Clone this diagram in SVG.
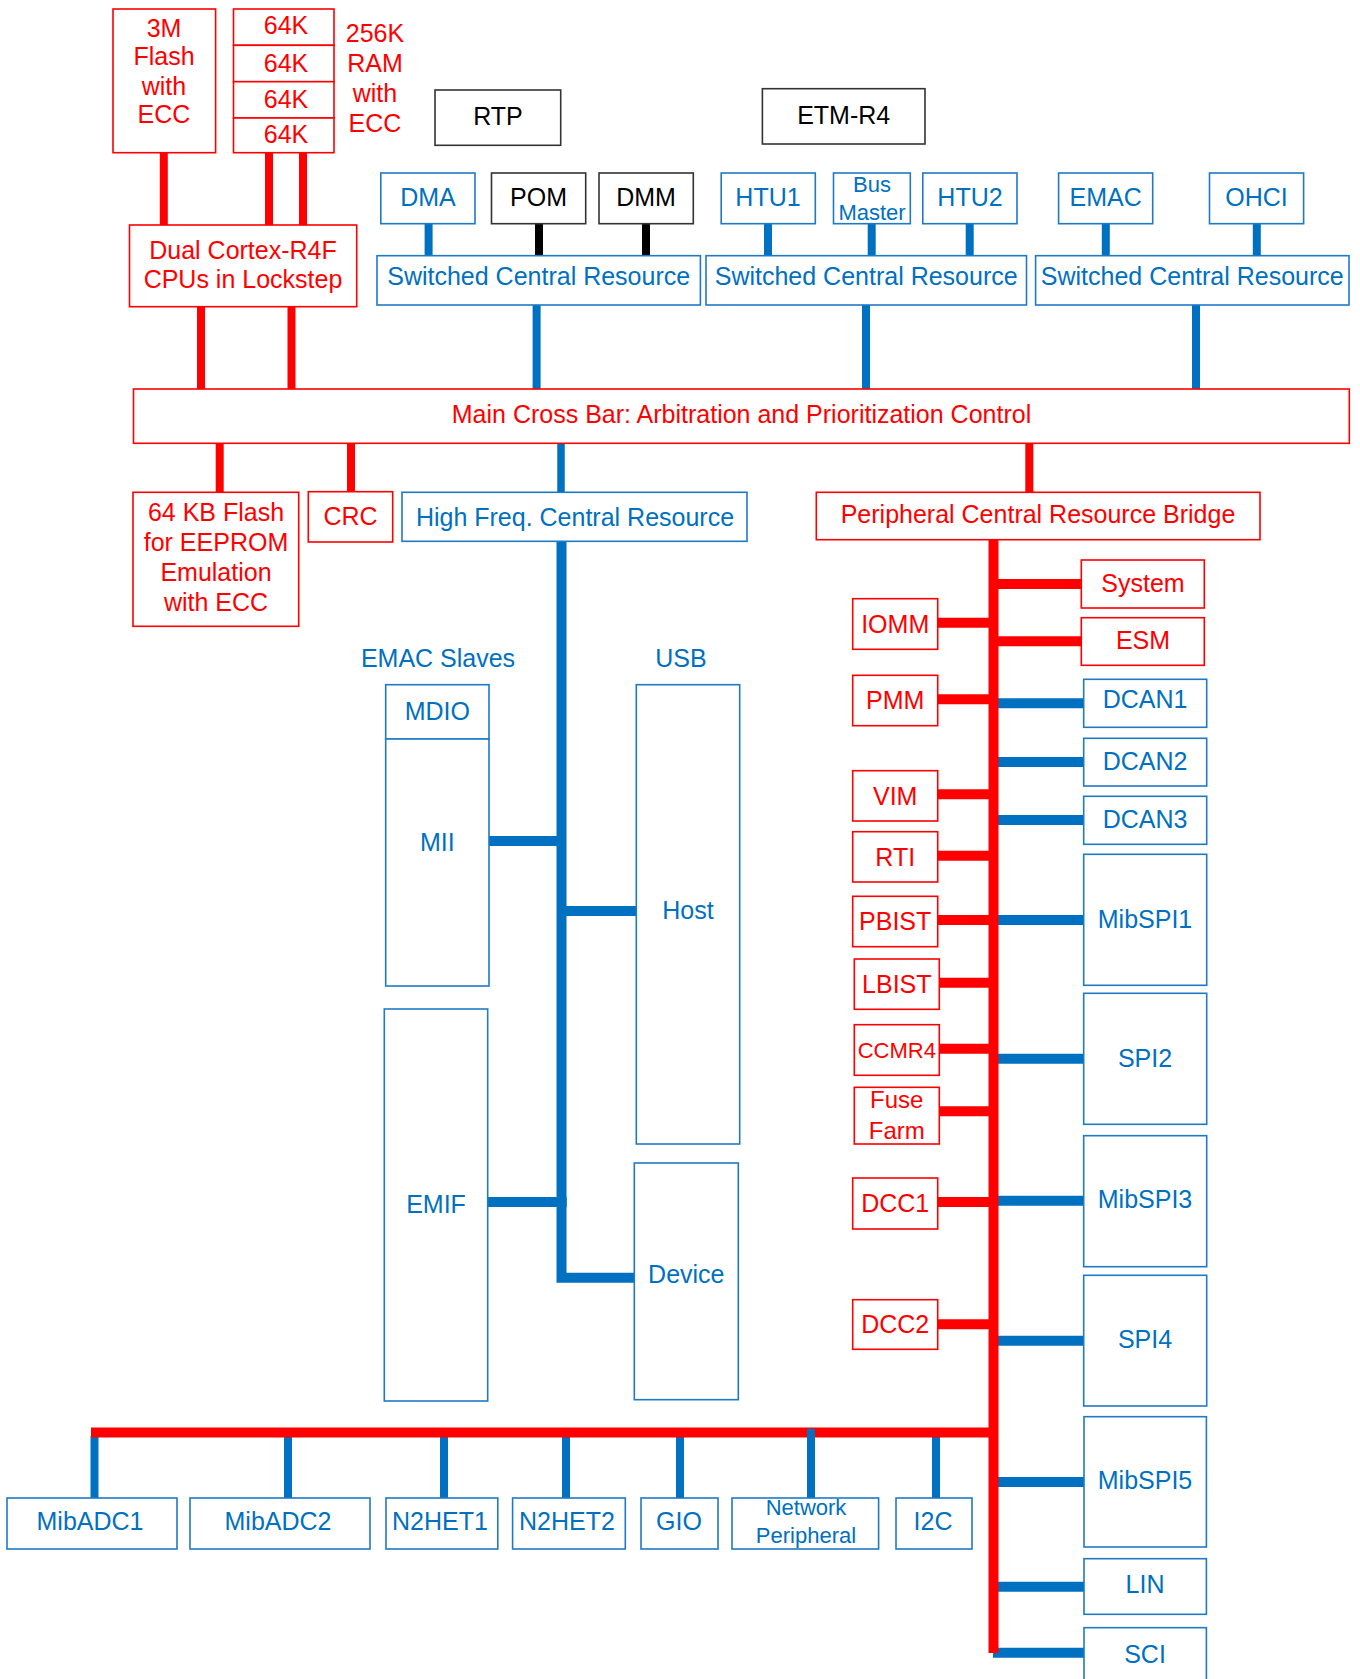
<svg xmlns="http://www.w3.org/2000/svg" width="1360" height="1679" viewBox="0 0 1360 1679">
<style>
rect{fill:#fff;stroke-width:1.6}
.r{stroke:#FF0000}
.b{stroke:#1F7AC6}
.k{stroke:#333}
text{font-family:"Liberation Sans",Arial,sans-serif;font-size:25px;text-anchor:middle}
.tr{fill:#FF0000}
.tb{fill:#0070C0}
.tk{fill:#000}
.s22{font-size:22px}
.s24{font-size:24px}
.cr{stroke:#FF0000;fill:none}
.cb{stroke:#0070C0;fill:none}
.ck{stroke:#000;fill:none}
.w8{stroke-width:8}
.w10{stroke-width:10}
</style>
<rect x="0" y="0" width="1360" height="1679" style="fill:#fff;stroke:none"/>
<g id="connectors">
  <g class="cr w8">
    <line x1="163.8" y1="152" x2="163.8" y2="225"/>
    <line x1="269" y1="152" x2="269" y2="225"/>
    <line x1="303" y1="152" x2="303" y2="225"/>
    <line x1="201" y1="306" x2="201" y2="389"/>
    <line x1="291.5" y1="306" x2="291.5" y2="389"/>
    <line x1="219.7" y1="443" x2="219.7" y2="492"/>
    <line x1="351" y1="443" x2="351" y2="492"/>
    <line x1="1029.3" y1="443" x2="1029.3" y2="492"/>
  </g>
  <g class="ck w8">
    <line x1="539" y1="223.7" x2="539" y2="255.7"/>
    <line x1="646" y1="223.7" x2="646" y2="255.7"/>
  </g>
  <g class="cb w8">
    <line x1="428.6" y1="223.7" x2="428.6" y2="255.7"/>
    <line x1="768" y1="223.7" x2="768" y2="255.7"/>
    <line x1="871.7" y1="223.7" x2="871.7" y2="255.7"/>
    <line x1="969.7" y1="223.7" x2="969.7" y2="255.7"/>
    <line x1="1105.8" y1="223.7" x2="1105.8" y2="255.7"/>
    <line x1="1256.8" y1="223.7" x2="1256.8" y2="255.7"/>
    <line x1="536.6" y1="305" x2="536.6" y2="389"/>
    <line x1="866" y1="305" x2="866" y2="389"/>
    <line x1="1196" y1="305" x2="1196" y2="389"/>
    <line x1="561" y1="443" x2="561" y2="492" style="stroke-width:7.5"/>
  </g>
  <g class="cb w10">
    <path d="M561.5 541.3 V1277.7 H634.3"/>
    <line x1="489" y1="841" x2="566" y2="841"/>
    <line x1="561" y1="911" x2="636.3" y2="911"/>
    <line x1="487.7" y1="1202" x2="566.7" y2="1202"/>
    <line x1="998" y1="703.3" x2="1083.7" y2="703.3"/>
    <line x1="998" y1="762" x2="1083.7" y2="762"/>
    <line x1="996" y1="820" x2="1083.7" y2="820"/>
    <line x1="998" y1="920" x2="1083.7" y2="920"/>
    <line x1="995" y1="1058.7" x2="1083.7" y2="1058.7"/>
    <line x1="998" y1="1200.7" x2="1083.7" y2="1200.7"/>
    <line x1="998" y1="1340.7" x2="1083.7" y2="1340.7"/>
    <line x1="998" y1="1482" x2="1084" y2="1482"/>
    <line x1="995" y1="1586.7" x2="1084" y2="1586.7"/>
    <line x1="993" y1="1652.7" x2="1084" y2="1652.7"/>
  </g>
  <g class="cb w8">
    <line x1="94.5" y1="1436" x2="94.5" y2="1498"/>
    <line x1="288" y1="1436" x2="288" y2="1498"/>
    <line x1="444" y1="1436" x2="444" y2="1498"/>
    <line x1="566" y1="1436" x2="566" y2="1498"/>
    <line x1="680" y1="1436" x2="680" y2="1498"/>
    <line x1="936" y1="1436" x2="936" y2="1498"/>
  </g>
  <g class="cr w10">
    <line x1="993.5" y1="539.7" x2="993.5" y2="1653"/>
    <line x1="91" y1="1432.5" x2="998" y2="1432.5"/>
    <line x1="993.5" y1="584" x2="1081.3" y2="584"/>
    <line x1="993.5" y1="641.3" x2="1081.3" y2="641.3"/>
    <line x1="937.7" y1="622.7" x2="993.5" y2="622.7"/>
    <line x1="937.7" y1="699.3" x2="993.5" y2="699.3"/>
    <line x1="937.7" y1="794.3" x2="993.5" y2="794.3"/>
    <line x1="937.7" y1="855.7" x2="993.5" y2="855.7"/>
    <line x1="937.7" y1="920" x2="993.5" y2="920"/>
    <line x1="939.3" y1="982.7" x2="993.5" y2="982.7"/>
    <line x1="939.3" y1="1048.7" x2="993.5" y2="1048.7"/>
    <line x1="939.3" y1="1111.3" x2="993.5" y2="1111.3"/>
    <line x1="937.7" y1="1202" x2="993.5" y2="1202"/>
    <line x1="937.7" y1="1324.3" x2="993.5" y2="1324.3"/>
  </g>
  <line class="cb w8" x1="811" y1="1429" x2="811" y2="1498"/>
</g>

<g id="flash3m"><rect class="r" x="113" y="9" width="102.6" height="143.7"/>
  <text class="tr" x="164" y="37">3M</text><text class="tr" x="164" y="65">Flash</text><text class="tr" x="164" y="95">with</text><text class="tr" x="164" y="123">ECC</text></g>
<g id="ram">
  <rect class="r" x="233.5" y="9" width="100.5" height="36.3"/>
  <rect class="r" x="233.5" y="45.3" width="100.5" height="36.4"/>
  <rect class="r" x="233.5" y="81.7" width="100.5" height="36.3"/>
  <rect class="r" x="233.5" y="118" width="100.5" height="34.7"/>
  <text class="tr" x="286" y="34">64K</text><text class="tr" x="286" y="71.7">64K</text><text class="tr" x="286" y="108">64K</text><text class="tr" x="286" y="142.7">64K</text>
</g>
<g id="ramlabel"><text class="tr" x="375" y="42">256K</text><text class="tr" x="375" y="72">RAM</text><text class="tr" x="375" y="102">with</text><text class="tr" x="375" y="132">ECC</text></g>
<g id="rtp"><rect class="k" x="435" y="90" width="125.7" height="55.3"/><text class="tk" x="498" y="125">RTP</text></g>
<g id="etm"><rect class="k" x="762.4" y="88.7" width="162.6" height="55.3"/><text class="tk" x="843.7" y="124">ETM-R4</text></g>
<g id="dma"><rect class="b" x="380.8" y="173" width="94.2" height="50.7"/><text class="tb" x="428" y="206">DMA</text></g>
<g id="pom"><rect class="k" x="491.5" y="173" width="94.2" height="50.7"/><text class="tk" x="538.6" y="206">POM</text></g>
<g id="dmm"><rect class="k" x="599" y="173" width="94.3" height="50.7"/><text class="tk" x="646" y="206">DMM</text></g>
<g id="htu1"><rect class="b" x="721.2" y="173" width="94.1" height="50.7"/><text class="tb" x="768" y="206">HTU1</text></g>
<g id="busmaster"><rect class="b" x="833.5" y="173" width="76.8" height="50.7"/><text class="tb s22" x="872" y="192.3">Bus</text><text class="tb s22" x="872" y="220">Master</text></g>
<g id="htu2"><rect class="b" x="922.8" y="173" width="94.2" height="50.7"/><text class="tb" x="970" y="206">HTU2</text></g>
<g id="emac"><rect class="b" x="1058.6" y="173" width="94.1" height="50.7"/><text class="tb" x="1105.6" y="206">EMAC</text></g>
<g id="ohci"><rect class="b" x="1209.5" y="173" width="94.1" height="50.7"/><text class="tb" x="1256.5" y="206">OHCI</text></g>
<g id="scr1"><rect class="b" x="377" y="255.7" width="323.4" height="49.3"/><text class="tb" x="538.7" y="285">Switched Central Resource</text></g>
<g id="scr2"><rect class="b" x="706" y="255.7" width="320.5" height="49.3"/><text class="tb" x="866.2" y="285">Switched Central Resource</text></g>
<g id="scr3"><rect class="b" x="1035.6" y="255.7" width="313.4" height="49.3"/><text class="tb" x="1192.3" y="285">Switched Central Resource</text></g>
<g id="cpu"><rect class="r" x="129.5" y="225" width="227.2" height="81.7"/><text class="tr" x="243" y="259">Dual Cortex-R4F</text><text class="tr" x="243" y="288.3">CPUs in Lockstep</text></g>
<g id="mcb"><rect class="r" x="133.5" y="389" width="1215.8" height="54.3"/><text class="tr" x="741.5" y="423">Main Cross Bar: Arbitration and Prioritization Control</text></g>

<g id="flash64"><rect class="r" x="133" y="492.3" width="165.7" height="134"/>
  <text class="tr" x="216" y="521">64 KB Flash</text><text class="tr" x="216" y="551">for EEPROM</text><text class="tr" x="216" y="581">Emulation</text><text class="tr" x="216" y="611">with ECC</text></g>
<g id="crc"><rect class="r" x="308.3" y="491.7" width="84.4" height="50.3"/><text class="tr" x="350.5" y="525">CRC</text></g>
<g id="hfcr"><rect class="b" x="402" y="492.3" width="345" height="49"/><text class="tb" x="575" y="525.7">High Freq. Central Resource</text></g>
<g id="bridge"><rect class="r" x="816.3" y="492.3" width="443.7" height="47.4"/><text class="tr" x="1038" y="522.7">Peripheral Central Resource Bridge</text></g>

<g id="emacslaves"><text class="tb" x="438" y="667">EMAC Slaves</text>
  <g id="mdio"><rect class="b" x="385.7" y="684.7" width="103.3" height="54.3"/><text class="tb" x="437.3" y="720">MDIO</text></g>
  <g id="mii"><rect class="b" x="385.7" y="739" width="103.3" height="247"/><text class="tb" x="437.3" y="851">MII</text></g>
</g>
<g id="emif"><rect class="b" x="384.3" y="1009" width="103.4" height="392"/><text class="tb" x="436" y="1213">EMIF</text></g>
<g id="usb"><text class="tb" x="681" y="667">USB</text>
  <g id="host"><rect class="b" x="636.3" y="684.7" width="103.4" height="459.3"/><text class="tb" x="688" y="919">Host</text></g>
  <g id="device"><rect class="b" x="634.3" y="1163" width="104" height="236.7"/><text class="tb" x="686.3" y="1283">Device</text></g>
</g>

<g id="iomm"><rect class="r" x="852.7" y="598.7" width="85" height="50.6"/><text class="tr" x="895.2" y="632.7">IOMM</text></g>
<g id="pmm"><rect class="r" x="852.7" y="675.3" width="85" height="50.4"/><text class="tr" x="895.2" y="709.3">PMM</text></g>
<g id="vim"><rect class="r" x="852.7" y="770.7" width="85" height="50.3"/><text class="tr" x="895.2" y="805">VIM</text></g>
<g id="rti"><rect class="r" x="852.7" y="831.7" width="85" height="50.3"/><text class="tr" x="895.2" y="865.7">RTI</text></g>
<g id="pbist"><rect class="r" x="852.7" y="896.3" width="85" height="50.4"/><text class="tr" x="895.2" y="930">PBIST</text></g>
<g id="lbist"><rect class="r" x="854.3" y="959" width="85" height="50.3"/><text class="tr" x="896.8" y="993.3">LBIST</text></g>
<g id="ccmr4"><rect class="r" x="854.3" y="1024.7" width="85" height="50.6"/><text class="tr s22" x="896.8" y="1058.3">CCMR4</text></g>
<g id="fusefarm"><rect class="r" x="854.3" y="1087.3" width="85" height="56.7"/><text class="tr s24" x="896.8" y="1108.3">Fuse</text><text class="tr s24" x="896.8" y="1139">Farm</text></g>
<g id="dcc1"><rect class="r" x="852.7" y="1178" width="85" height="51"/><text class="tr" x="895.2" y="1211.7">DCC1</text></g>
<g id="dcc2"><rect class="r" x="852.7" y="1299.7" width="85" height="49.6"/><text class="tr" x="895.2" y="1333.3">DCC2</text></g>

<g id="system"><rect class="r" x="1081.3" y="560" width="123" height="48"/><text class="tr" x="1143" y="592">System</text></g>
<g id="esm"><rect class="r" x="1081.3" y="617.7" width="123" height="47.6"/><text class="tr" x="1143" y="649.3">ESM</text></g>
<g id="dcan1"><rect class="b" x="1083.7" y="679.3" width="123" height="48"/><text class="tb" x="1145" y="708.3">DCAN1</text></g>
<g id="dcan2"><rect class="b" x="1083.7" y="738.3" width="123" height="47.7"/><text class="tb" x="1145" y="770">DCAN2</text></g>
<g id="dcan3"><rect class="b" x="1083.7" y="796.3" width="123" height="48"/><text class="tb" x="1145" y="828">DCAN3</text></g>
<g id="mibspi1"><rect class="b" x="1083.7" y="854.3" width="123" height="131"/><text class="tb" x="1145" y="928.3">MibSPI1</text></g>
<g id="spi2"><rect class="b" x="1083.7" y="993.3" width="123" height="131"/><text class="tb" x="1145" y="1066.7">SPI2</text></g>
<g id="mibspi3"><rect class="b" x="1083.7" y="1135.7" width="123" height="131"/><text class="tb" x="1145" y="1208.3">MibSPI3</text></g>
<g id="spi4"><rect class="b" x="1083.7" y="1275.3" width="123" height="130.7"/><text class="tb" x="1145" y="1348.3">SPI4</text></g>
<g id="mibspi5"><rect class="b" x="1084" y="1416.7" width="122.4" height="130.3"/><text class="tb" x="1145" y="1489">MibSPI5</text></g>
<g id="lin"><rect class="b" x="1084" y="1558.7" width="122.4" height="55.6"/><text class="tb" x="1145" y="1593.3">LIN</text></g>
<g id="sci"><rect class="b" x="1084" y="1627.7" width="122.4" height="70"/><text class="tb" x="1145" y="1663.3">SCI</text></g>

<g id="mibadc1"><rect class="b" x="7" y="1498" width="170" height="51"/><text class="tb" x="90" y="1530">MibADC1</text></g>
<g id="mibadc2"><rect class="b" x="190" y="1498" width="180" height="51"/><text class="tb" x="278" y="1530">MibADC2</text></g>
<g id="n2het1"><rect class="b" x="386" y="1498" width="111.8" height="51"/><text class="tb" x="440" y="1530">N2HET1</text></g>
<g id="n2het2"><rect class="b" x="512.6" y="1498" width="112.7" height="51"/><text class="tb" x="567" y="1530">N2HET2</text></g>
<g id="gio"><rect class="b" x="641" y="1498" width="77" height="51"/><text class="tb" x="679" y="1530">GIO</text></g>
<g id="netperiph"><rect class="b" x="732" y="1498" width="146.6" height="51"/><text class="tb s22" x="806" y="1515">Network</text><text class="tb s22" x="806" y="1543">Peripheral</text></g>
<g id="i2c"><rect class="b" x="896" y="1498" width="76" height="51"/><text class="tb" x="933" y="1530">I2C</text></g>
</svg>
